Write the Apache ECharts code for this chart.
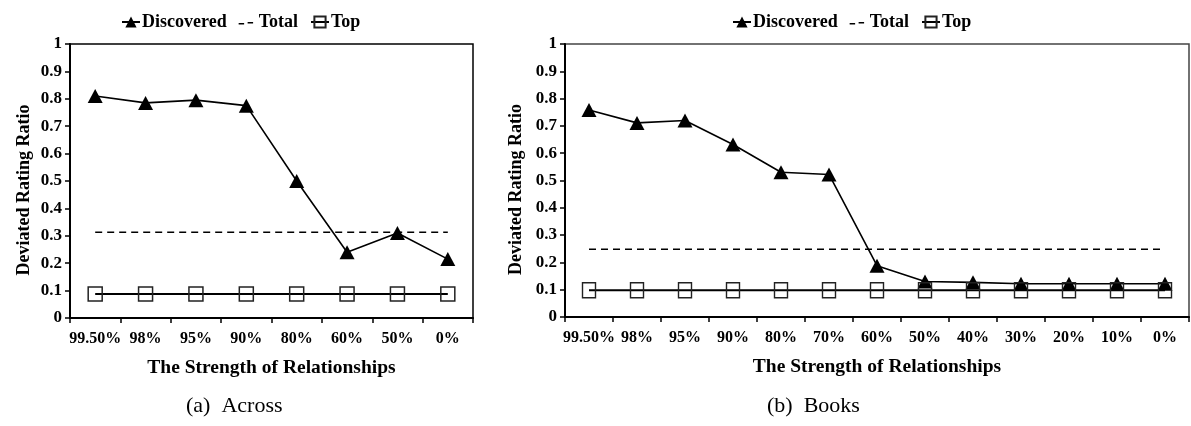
<!DOCTYPE html>
<html><head><meta charset="utf-8">
<script src="https://cdn.jsdelivr.net/npm/echarts@6/dist/echarts.min.js"></script>
<style>html,body{margin:0;padding:0;background:#fff}#c{width:1191px;height:426px}</style>
</head><body><div id="c"></div>
<script>
const catsA = ['99.50%','98%','95%','90%','80%','60%','50%','0%'];
const discoveredA = [0.81,0.785,0.795,0.775,0.5,0.24,0.31,0.215];
const totalA = [0.313,0.313,0.313,0.313,0.313,0.313,0.313,0.313];
const topA = [0.088,0.088,0.088,0.088,0.088,0.088,0.088,0.088];

const catsB = ['99.50%','98%','95%','90%','80%','70%','60%','50%','40%','30%','20%','10%','0%'];
const discoveredB = [0.758,0.711,0.72,0.632,0.53,0.522,0.188,0.13,0.127,0.122,0.122,0.122,0.122];
const totalB = [0.248,0.248,0.248,0.248,0.248,0.248,0.248,0.248,0.248,0.248,0.248,0.248,0.248];
const topB = [0.098,0.098,0.098,0.098,0.098,0.098,0.098,0.098,0.098,0.098,0.098,0.098,0.098];

const yTicks = [0,0.1,0.2,0.3,0.4,0.5,0.6,0.7,0.8,0.9,1];
const captions = ['(a)  Across','(b)  Books'];

const F = 'Liberation Serif';
const chart = echarts.init(document.getElementById('c'), null, {renderer:'canvas'});

const dashIcon = 'path://M0,0h0.05v0.05h-0.05z M18,14h0.05v0.05h-0.05z M0,8h5.5v1.6h-5.5z M9,7h5.5v1.6h-5.5z';

function xAxis(gi, cats, fs){
  return {type:'category', gridIndex:gi, data:cats, boundaryGap:true,
    axisLine:{lineStyle:{color:'#000',width:2}},
    axisTick:{show:true, length:5, lineStyle:{color:'#000',width:1.5}},
    axisLabel:{interval:0, color:'#000', fontFamily:F, fontWeight:'bold', fontSize:fs, margin:13},
    name:'The Strength of Relationships', nameLocation:'middle', nameGap:40,
    nameTextStyle:{color:'#000', fontFamily:F, fontWeight:'bold', fontSize:19.5}};
}
function yAxis(gi, gap){
  return {type:'value', gridIndex:gi, min:0, max:1, interval:0.1,
    axisLine:{show:true, lineStyle:{color:'#000',width:2}},
    axisTick:{show:true, length:5, lineStyle:{color:'#000',width:1.5}},
    splitLine:{show:false},
    axisLabel:{color:'#000', fontFamily:F, fontWeight:'bold', fontSize:17, margin:8,
      formatter:v=>{const t=yTicks.find(k=>Math.abs(k-v)<1e-6); return t===undefined?'':String(t);}},
    name:'Deviated Rating Ratio', nameLocation:'middle', nameGap:gap,
    nameTextStyle:{color:'#000', fontFamily:F, fontWeight:'bold', fontSize:18, padding:[0,18,0,0]}};
}
function seriesFor(gi, disc, tot, top, sq){
  return [
    {name:'Discovered', type:'line', xAxisIndex:gi, yAxisIndex:gi, data:disc,
     symbol:'triangle', symbolSize:[15,14], z:3,
     lineStyle:{color:'#000',width:1.6}, itemStyle:{color:'#000'}},
    {name:'Total', type:'line', xAxisIndex:gi, yAxisIndex:gi, data:tot,
     symbol:'none', showSymbol:false, z:2, legendIcon:dashIcon,
     lineStyle:{color:'#000',width:1.6,type:[7,5]}, itemStyle:{color:'#000'}},
    {name:'Top', type:'line', xAxisIndex:gi, yAxisIndex:gi, data:top,
     symbol:'rect', symbolSize:sq, z:4,
     lineStyle:{color:'#000',width:2}, itemStyle:{color:'rgba(255,255,255,0)', borderColor:'#222', borderWidth:1.5}}
  ];
}
function legend(left){
  return {left:left, top:8, itemWidth:18, itemHeight:14, itemGap:12,
    textStyle:{color:'#000', fontFamily:F, fontWeight:'bold', fontSize:18, padding:[0,0,0,-3]},
    data:['Discovered',{name:'Total', icon:dashIcon},'Top']};
}

chart.setOption({
  animation:false,
  backgroundColor:'#fff',
  grid:[
    {left:70, right:718, top:44, bottom:108, show:true, borderColor:'#000', borderWidth:1.5, backgroundColor:'transparent'},
    {left:565, right:2, top:44, bottom:109, show:true, borderColor:'#444', borderWidth:1.5, backgroundColor:'transparent'}
  ],
  legend:[legend(116), legend(727)],
  xAxis:[xAxis(0, catsA, 16), xAxis(1, catsB, 16)],
  yAxis:[yAxis(0, 37), yAxis(1, 27)],
  series:[].concat(seriesFor(0, discoveredA, totalA, topA, [14,14]), seriesFor(1, discoveredB, totalB, topB, [13,15])),
  graphic:[
    {type:'text', top:395, left:186, style:{text:captions[0], fill:'#000', font:'22px "Liberation Serif"'}},
    {type:'text', top:395, left:767, style:{text:captions[1], fill:'#000', font:'22px "Liberation Serif"'}}
  ]
});
</script></body></html>
